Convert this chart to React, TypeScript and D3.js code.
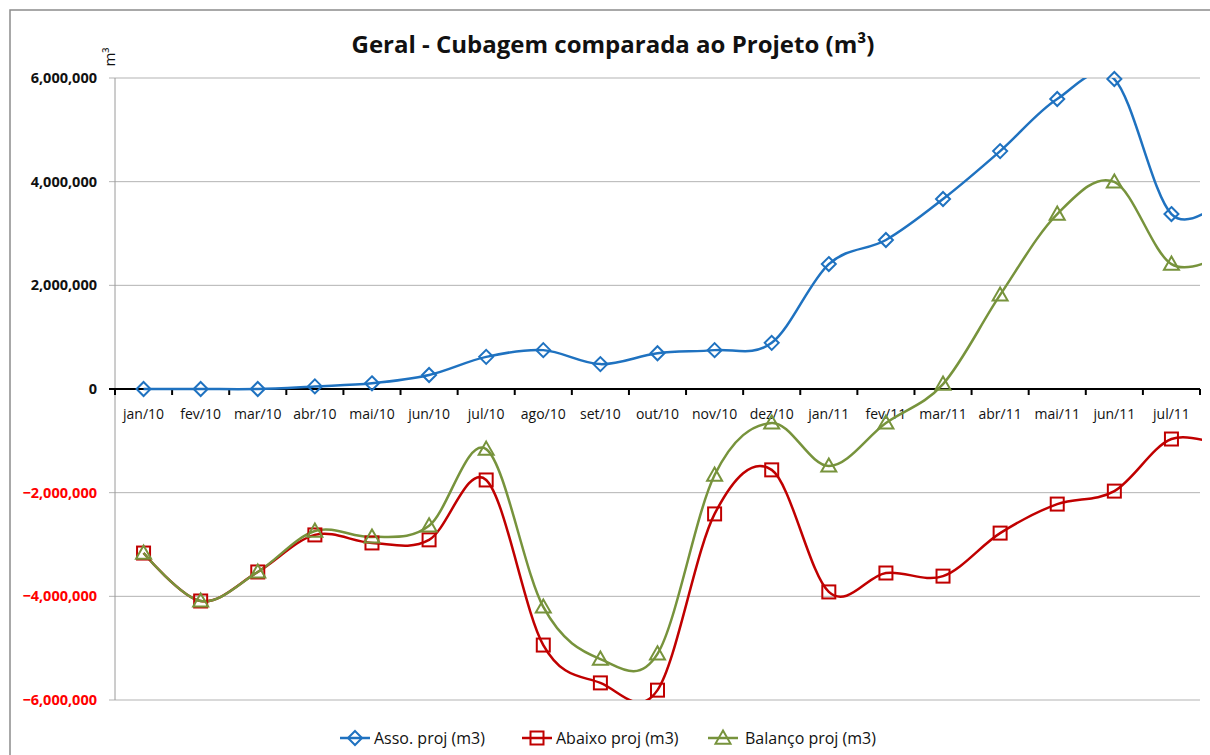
import * as d3 from "d3";

// months on the category axis (last one is beyond the visible plot)
const months = [
  "jan/10", "fev/10", "mar/10", "abr/10", "mai/10", "jun/10", "jul/10", "ago/10", "set/10",
  "out/10", "nov/10", "dez/10", "jan/11", "fev/11", "mar/11", "abr/11", "mai/11", "jun/11", "jul/11",
];
const extraMonth = "ago/11";

const assoProj = [
  0, 0, 0, 50000, 110000, 270000, 620000, 750000, 480000, 690000, 750000, 890000,
  2410000, 2875000, 3665000, 4590000, 5595000, 5980000, 3375000, 3750000,
];
const abaixoProj = [
  -3165000, -4090000, -3530000, -2815000, -2970000, -2910000, -1755000, -4940000, -5670000,
  -5810000, -2410000, -1560000, -3915000, -3550000, -3610000, -2780000, -2220000, -1970000,
  -965000, -1150000,
];
const balancoProj = [
  -3165000, -4090000, -3530000, -2740000, -2855000, -2640000, -1160000, -4205000, -5210000,
  -5110000, -1660000, -655000, -1485000, -655000, 95000, 1815000, 3375000, 3995000,
  2410000, 2650000,
];
const yTicks = [-6000000, -4000000, -2000000, 0, 2000000, 4000000, 6000000];

const series = [
  { name: "Asso. proj (m3)", values: assoProj, color: "#1F72C0", marker: "diamond" },
  { name: "Abaixo proj (m3)", values: abaixoProj, color: "#C00000", marker: "square" },
  { name: "Balanço proj (m3)", values: balancoProj, color: "#77933C", marker: "triangle" },
];

const W = 1210;
const H = 755;
const left = 115;
const right = 1200;
const top = 78;
const bottom = 700;
const font = "'Open Sans', 'Noto Sans', sans-serif";

function Marker({ type, x, y, color }: { type: string; x: number; y: number; color: string }) {
  const common = { fill: "none", stroke: color, strokeWidth: 2 };
  if (type === "diamond") {
    const r = 7;
    return <path d={`M${x},${y - r}L${x + r},${y}L${x},${y + r}L${x - r},${y}Z`} {...common} />;
  }
  if (type === "square") {
    const r = 6.5;
    return <rect x={x - r} y={y - r} width={r * 2} height={r * 2} {...common} />;
  }
  const r = 7.5;
  return <path d={`M${x},${y - r}L${x + r},${y + r * 0.75}L${x - r},${y + r * 0.75}Z`} {...common} />;
}

export default function App() {
  const allMonths = [...months, extraMonth];
  const x = d3.scaleBand<string>().domain(months).range([left, right]);
  const xc = (i: number) => left + x.step() * (i + 0.5);
  const y = d3.scaleLinear().domain([-6000000, 6000000]).range([bottom, top]);
  const fmt = d3.format(",");

  const line = d3
    .line<number>()
    .x((_, i) => xc(i))
    .y((d) => y(d))
    .curve(d3.curveCardinal.tension(0));

  const boundaries = d3.range(months.length + 1).map((i) => left + x.step() * i);

  const legendItems = [
    { x: 340, tx: 374 },
    { x: 522, tx: 556 },
    { x: 708, tx: 745 },
  ];

  return (
    <svg
      width={W}
      height={H}
      style={{ position: "absolute", left: 0, top: 0, background: "#fff" }}
      fontFamily={font}
    >
      <defs>
        <clipPath id="plotClip">
          <rect x={left} y={top} width={right - left + 2} height={bottom - top} />
        </clipPath>
      </defs>
      <rect x={10} y={10} width={W + 10} height={H + 10} fill="#fff" stroke="#8c8c8c" strokeWidth={1.5} />

      <text x={613} y={53} textAnchor="middle" fontSize={24} fontWeight="bold" fill="#111">
        Geral - Cubagem comparada ao Projeto (m³)
      </text>
      <text
        transform={`translate(${115},${57}) rotate(-90)`}
        textAnchor="middle"
        fontSize={15}
        fill="#111"
      >
        m³
      </text>

      {/* gridlines and y labels */}
      {yTicks.map((t) => (
        <g key={t}>
          {t !== 0 && <line x1={109} x2={right} y1={y(t)} y2={y(t)} stroke="#b3b3b3" strokeWidth={1} />}
          <text
            x={97}
            y={y(t)}
            dy="0.35em"
            textAnchor="end"
            fontSize={14.5}
            fontWeight="bold"
            fill={t < 0 ? "#FF0000" : "#111"}
          >
            {fmt(t)}
          </text>
        </g>
      ))}
      <line x1={left} x2={left} y1={top} y2={bottom} stroke="#9a9a9a" strokeWidth={1} />

      {/* category axis at zero */}
      <line x1={109} x2={right} y1={y(0)} y2={y(0)} stroke="#000" strokeWidth={2} />
      {boundaries.map((b, i) => (
        <line key={i} x1={b} x2={b} y1={y(0)} y2={y(0) + 6} stroke="#000" strokeWidth={2} />
      ))}
      {months.map((m, i) => (
        <text key={m} x={xc(i)} y={y(0) + 30} textAnchor="middle" fontSize={14} fill="#111">
          {m}
        </text>
      ))}

      {/* series */}
      <g clipPath="url(#plotClip)">
        {series.map((s) => (
          <path
            key={s.name}
            d={line(s.values.slice(0, allMonths.length)) || ""}
            fill="none"
            stroke={s.color}
            strokeWidth={2.5}
          />
        ))}
      </g>
      {series.map((s) =>
        months.map((m, i) => (
          <Marker key={s.name + m} type={s.marker} x={xc(i)} y={y(s.values[i])} color={s.color} />
        ))
      )}

      {/* legend */}
      {series.map((s, i) => (
        <g key={s.name}>
          <line
            x1={legendItems[i].x}
            x2={legendItems[i].x + 30}
            y1={738}
            y2={738}
            stroke={s.color}
            strokeWidth={2.5}
          />
          <Marker type={s.marker} x={legendItems[i].x + 15} y={738} color={s.color} />
          <text x={legendItems[i].tx} y={738} dy="0.35em" fontSize={16} fill="#111">
            {s.name}
          </text>
        </g>
      ))}
    </svg>
  );
}
